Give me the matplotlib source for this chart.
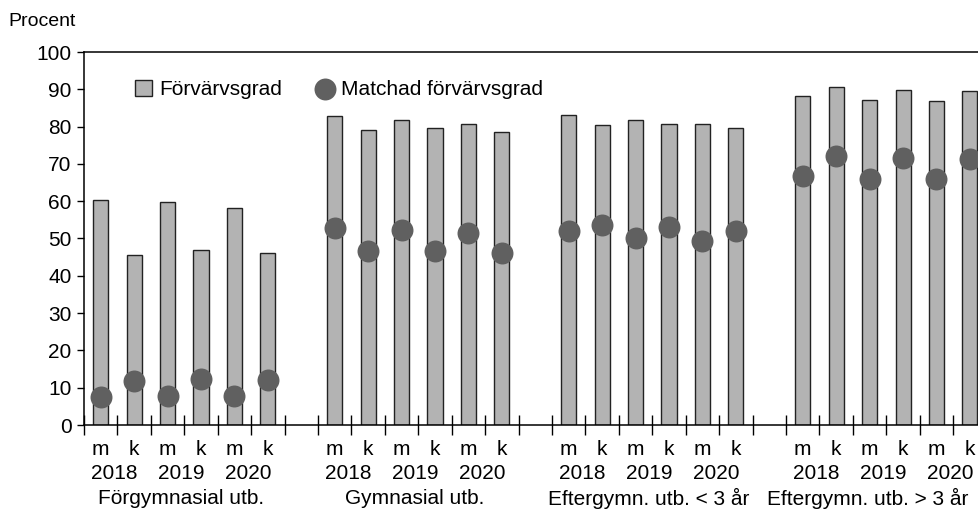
import matplotlib.pyplot as plt
from matplotlib.transforms import blended_transform_factory
import numpy as np

plt.rcParams['font.family'] = ['Liberation Sans', 'DejaVu Sans']

groups = ['Förgymnasial utb.', 'Gymnasial utb.', 'Eftergymn. utb. < 3 år', 'Eftergymn. utb. > 3 år']
years = ['2018', '2019', '2020']
sexes = ['m', 'k']

# förvärvsgrad (bars), per group: m18, k18, m19, k19, m20, k20
forv = [
    [60.3, 45.7, 59.7, 46.8, 58.3, 46.0],
    [82.9, 79.1, 81.8, 79.5, 80.8, 78.6],
    [83.0, 80.5, 81.8, 80.7, 80.8, 79.7],
    [88.1, 90.5, 87.1, 89.8, 86.8, 89.6],
]
# matchad förvärvsgrad (dots)
matchad = [
    [7.6, 11.7, 7.8, 12.4, 7.7, 12.1],
    [52.9, 46.6, 52.4, 46.7, 51.6, 46.0],
    [52.0, 53.7, 50.2, 53.0, 49.4, 52.0],
    [66.8, 72.2, 65.9, 71.6, 65.9, 71.4],
]

fig = plt.figure(figsize=(9.79, 5.11), dpi=100)
ax = fig.add_axes([84 / 979, 86 / 511, 902.6 / 979, 373 / 511])

bar_color = '#b3b3b3'
dot_color = '#606060'

xs, bars, dots = [], [], []
for g in range(len(groups)):
    for i in range(6):
        xs.append(g * 7 + i)
        bars.append(forv[g][i])
        dots.append(matchad[g][i])
xs = np.array(xs)

b = ax.bar(xs, bars, width=0.45, color=bar_color, edgecolor='#222222', linewidth=1,
           label='Förvärvsgrad', zorder=2)
sc = ax.scatter(xs, dots, s=250, color=dot_color, label='Matchad förvärvsgrad', zorder=3,
                linewidths=0)

ax.set_xlim(-0.5, 26.5)
ax.set_ylim(0, 100)
ax.set_yticks(range(0, 101, 10))
ax.tick_params(axis='y', direction='out', length=5, width=1, labelsize=15, pad=4)
ax.set_xticks(np.arange(-0.5, 27, 1))
ax.set_xticklabels([])
ax.tick_params(axis='x', direction='inout', length=14, width=1)
for s in ax.spines.values():
    s.set_linewidth(1.1)
    s.set_color('black')

trans = blended_transform_factory(ax.transData, ax.transAxes)
for g, name in enumerate(groups):
    base = g * 7
    for i in range(6):
        ax.text(base + i, -0.067, sexes[i % 2], transform=trans, ha='center', va='center', fontsize=15)
    for j, yr in enumerate(years):
        ax.text(base + 2 * j + 0.4, -0.131, yr, transform=trans, ha='center', va='center', fontsize=15)
    # last label is pulled left so it fits inside the picture
    shift = 0.55 if g == len(groups) - 1 else 0.1
    ax.text(base + 2.5 - shift, -0.196, name, transform=trans, ha='center', va='center', fontsize=15)

fig.text(8 / 979, 1 - 22 / 511, 'Procent', fontsize=14, ha='left', va='center')

ax.legend(handles=[b, sc], loc='center left', bbox_to_anchor=(0.057, 0.9), frameon=False, ncol=2,
          fontsize=15, handlelength=0.8, handleheight=0.8, handletextpad=0.35,
          columnspacing=1.65, borderpad=0, borderaxespad=0)

fig.savefig('out.png', dpi=100)
